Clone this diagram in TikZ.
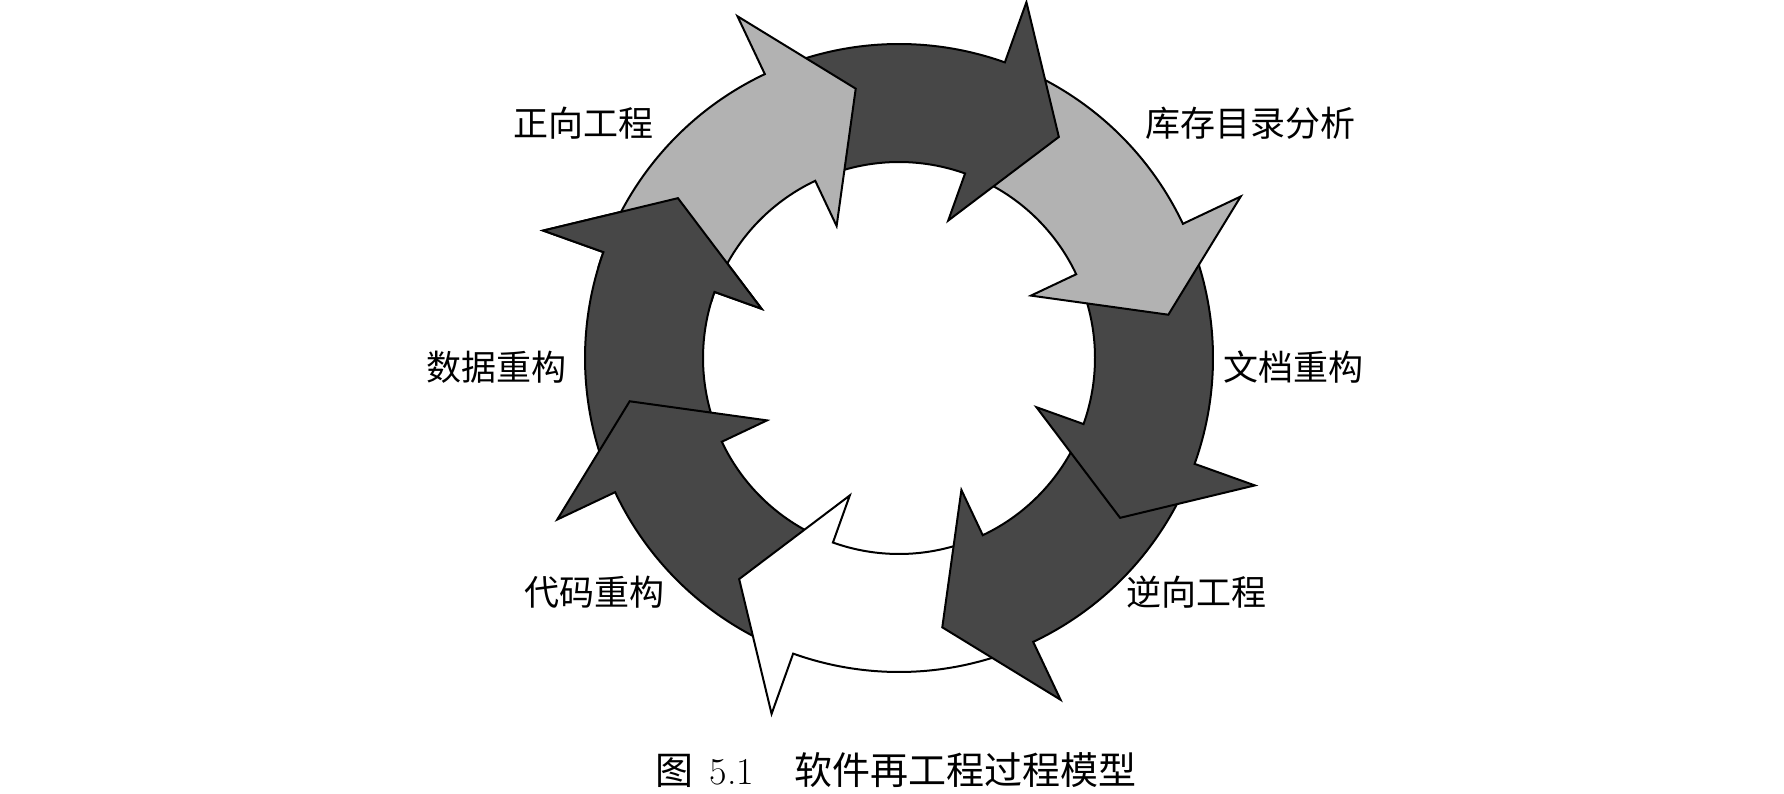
\documentclass[tikz,border=0pt]{standalone}
\usepackage{fontspec}
\newfontfamily\cjk{Noto Sans CJK SC}
% One segment of the cycle: tail 40 degrees before the head base,
% straight arrow head whose barbs stick out of the ring on both sides.
\newcommand{\cyclearrow}[2]{%
  \pgfmathsetmacro{\tailang}{#2+40}%
  \pgfmathsetmacro{\tipang}{#2-16.17}%
  \path[segment,#1] (\tailang:314) arc[start angle=\tailang, end angle=#2, radius=314]
    -- (#2:378) -- (\tipang:272.8) -- (#2:146) -- (#2:196)
    arc[start angle=#2, end angle=\tailang, radius=196] -- cycle;}
\begin{document}
\begin{tikzpicture}[x=1pt,y=1pt,
  segment/.style={draw=black, line width=2pt, line join=miter, miter limit=20},
  darkfill/.style={fill=black!72},
  lightfill/.style={fill=black!30},
  blankfill/.style={fill=white},
  stage/.style={font=\cjk\fontsize{35}{40}\selectfont, inner sep=0pt},
  caption/.style={font=\fontsize{38}{44}\selectfont, inner sep=0pt}]
\useasboundingbox (0,0) rectangle (1784,793);
\fill[white] (0,0) rectangle (1784,793);

\begin{scope}[shift={(899,435)}]
  % drawn against the direction of flow so that every head lies on the next tail
  \cyclearrow{darkfill}{160.3}
  \cyclearrow{darkfill}{-154.7}
  \cyclearrow{blankfill}{-109.7}
  \cyclearrow{darkfill}{-64.7}
  \cyclearrow{darkfill}{-19.7}
  \cyclearrow{lightfill}{25.3}
  \cyclearrow{darkfill}{70.3}
  \cyclearrow{lightfill}{115.3}
  % the head of the upper left segment again, above the tail of the light one
  \begin{scope}
    \clip (0,0) -- (163.3:430) arc[start angle=163.3, end angle=138, radius=430] -- cycle;
    \cyclearrow{darkfill}{160.3}
  \end{scope}
\end{scope}

\node[stage] (fwd) at (583,670) {正向工程};
\node[stage] (inv) at (1250,670) {库存目录分析};
\node[stage] (doc) at (1293,426) {文档重构};
\node[stage] (rev) at (1196,201) {逆向工程};
\node[stage] (code) at (594,201) {代码重构};
\node[stage] (data) at (496,426) {数据重构};

\node[caption] (cap) at (896,23) {{\cjk 图}\hspace{16pt}5.1\hspace{40pt}{\cjk 软件再工程过程模型}};
\end{tikzpicture}
\end{document}
